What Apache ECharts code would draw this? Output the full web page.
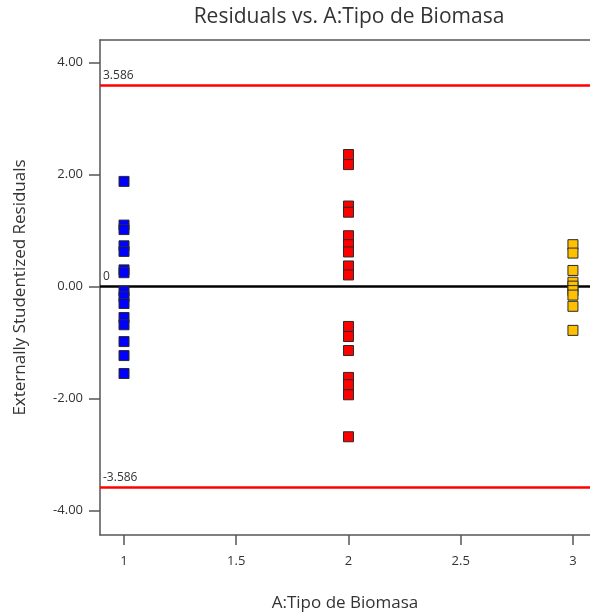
<!DOCTYPE html>
<html>
<head>
<meta charset="utf-8">
<script src="https://cdn.jsdelivr.net/npm/echarts@6/dist/echarts.min.js"></script>
<style>
  html, body { margin: 0; padding: 0; background: #fff; }
  #chart { width: 590px; height: 612px; }
</style>
</head>
<body>
<div id="chart"></div>
<script>
// Externally studentized residuals grouped by biomass type (1, 2, 3)
const biomassTypes = [1, 2, 3];
const residualsType1 = [1.88, 1.10, 1.02, 0.73, 0.63, 0.30, 0.25, -0.08, -0.18, -0.30, -0.55, -0.68, -0.98, -1.23, -1.55];
const residualsType2 = [2.36, 2.18, 1.44, 1.33, 0.91, 0.75, 0.62, 0.37, 0.21, -0.71, -0.89, -1.14, -1.62, -1.75, -1.93, -2.68];
const residualsType3 = [0.75, 0.60, 0.29, 0.08, 0.01, -0.07, -0.15, -0.35, -0.78];
const limitValue = 3.586;
const xTicks = [1, 1.5, 2, 2.5, 3];
const yTicks = [-4, -2, 0, 2, 4];

const fontFamily = '"Open Sans", "Noto Sans", sans-serif';
const frameLine = { color: '#555', width: 1.5 };

function points(x, values) {
  return values.map(v => [x, v]);
}

function scatterSeries(x, values, color) {
  return {
    type: 'scatter',
    xAxisIndex: 0,
    symbol: 'rect',
    symbolSize: 10,
    data: points(x, values),
    itemStyle: { color: color, opacity: 1, borderColor: '#2a2a2a', borderWidth: 1 },
    z: 5
  };
}

const chart = echarts.init(document.getElementById('chart'), null, { renderer: 'canvas' });

chart.setOption({
  animation: false,
  backgroundColor: '#ffffff',
  title: {
    text: 'Residuals vs. A:Tipo de Biomasa',
    left: 344,
    textAlign: 'center',
    top: 2,
    textStyle: { fontFamily: fontFamily, fontSize: 21, fontWeight: 'normal', color: '#333' }
  },
  grid: {
    left: 100, right: 0, top: 40, bottom: 77,
    containLabel: false, outerBoundsMode: 'none'
  },
  xAxis: [{
    type: 'value',
    min: 0.893,
    max: 3.076,
    name: 'A:Tipo de Biomasa',
    nameLocation: 'middle',
    nameGap: 60,
    nameTextStyle: { fontFamily: fontFamily, fontSize: 17, color: '#333' },
    splitLine: { show: false },
    axisLine: { onZero: false, lineStyle: frameLine },
    axisTick: { customValues: xTicks, length: 10, lineStyle: frameLine },
    axisLabel: {
      customValues: xTicks,
      margin: 20,
      fontFamily: fontFamily, fontSize: 13, color: '#333',
      formatter: v => String(v)
    }
  }, {
    // top edge of the plot frame
    type: 'value',
    show: true,
    position: 'top',
    min: 0.893,
    max: 3.076,
    splitLine: { show: false },
    axisLine: { show: true, onZero: false, lineStyle: frameLine },
    axisTick: { show: false },
    axisLabel: { show: false }
  }],
  yAxis: {
    type: 'value',
    min: -4.434,
    max: 4.405,
    name: 'Externally Studentized Residuals',
    nameLocation: 'middle',
    nameGap: 71,
    nameTextStyle: { fontFamily: fontFamily, fontSize: 17, color: '#333' },
    splitLine: { show: false },
    axisLine: { onZero: false, lineStyle: frameLine },
    axisTick: { customValues: yTicks, length: 11, lineStyle: frameLine },
    axisLabel: {
      customValues: yTicks,
      margin: 17,
      fontFamily: fontFamily, fontSize: 13, color: '#333',
      formatter: v => v.toFixed(2)
    }
  },
  series: [
    scatterSeries(biomassTypes[0], residualsType1, '#0000ff'),
    scatterSeries(biomassTypes[1], residualsType2, '#ff0000'),
    scatterSeries(biomassTypes[2], residualsType3, '#ffc000'),
    {
      type: 'scatter',
      xAxisIndex: 0,
      data: [],
      markLine: {
        silent: true,
        symbol: 'none',
        animation: false,
        label: {
          position: 'insideStartTop',
          distance: [3, 4],
          fontFamily: fontFamily,
          fontSize: 12,
          color: '#333',
          formatter: p => p.name
        },
        data: [
          { name: String(limitValue), yAxis: limitValue, lineStyle: { color: '#ff0000', width: 2.5, type: 'solid' } },
          { name: String(-limitValue), yAxis: -limitValue, lineStyle: { color: '#ff0000', width: 2.5, type: 'solid' } },
          { name: '0', yAxis: 0, lineStyle: { color: '#000000', width: 2.5, type: 'solid' } }
        ]
      },
      z: 3
    }
  ]
});
</script>
</body>
</html>
